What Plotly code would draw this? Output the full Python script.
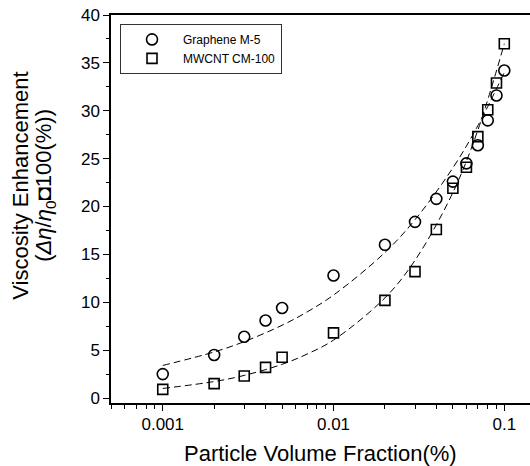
import plotly.graph_objects as go

# ---- data ----
x_vals = [0.001, 0.002, 0.003, 0.004, 0.005, 0.01, 0.02, 0.03, 0.04, 0.05,
          0.06, 0.07, 0.08, 0.09, 0.1]
graphene = [2.5, 4.5, 6.4, 8.1, 9.4, 12.8, 16.0, 18.4, 20.8, 22.6,
            24.5, 26.4, 29.0, 31.6, 34.2]
mwcnt = [0.9, 1.5, 2.3, 3.2, 4.25, 6.8, 10.2, 13.2, 17.6, 21.9,
         24.1, 27.3, 30.1, 32.9, 37.0]

fit_x = [0.001, 0.002, 0.003, 0.005, 0.007, 0.01, 0.02, 0.03, 0.05, 0.07, 0.1]
graphene_fit = [3.40, 4.81, 5.89, 7.60, 8.99, 10.75, 15.20, 18.62, 24.04, 28.44, 34.0]
mwcnt_fit = [1.00, 1.72, 2.36, 3.52, 4.59, 6.05, 10.46, 14.38, 21.46, 27.97, 37.0]

x_tickvals = [0.001, 0.01, 0.1]
x_ticktext = ["0.001", "0.01", "0.1"]
y_tickvals = [0, 5, 10, 15, 20, 25, 30, 35, 40]

series_names = ["Graphene M-5", "MWCNT CM-100"]
x_title = "Particle Volume Fraction(%)"
y_title_1 = "Viscosity Enhancement"
y_title_2 = "(<i>Δη</i>/<i>η</i><sub>0</sub>◘100(%))"

FONT = "Liberation Sans, Arial, sans-serif"

fig = go.Figure()

fig.add_trace(go.Scatter(x=fit_x, y=graphene_fit, mode="lines",
                         line=dict(color="black", width=1, dash="7px,4px", shape="spline"),
                         showlegend=False, hoverinfo="skip"))
fig.add_trace(go.Scatter(x=fit_x, y=mwcnt_fit, mode="lines",
                         line=dict(color="black", width=1, dash="7px,4px", shape="spline"),
                         showlegend=False, hoverinfo="skip"))

fig.add_trace(go.Scatter(x=x_vals, y=graphene, mode="markers", name=series_names[0],
                         marker=dict(symbol="circle-open", size=11, color="black",
                                     line=dict(color="black", width=1.6))))
fig.add_trace(go.Scatter(x=x_vals, y=mwcnt, mode="markers", name=series_names[1],
                         marker=dict(symbol="square-open", size=10, color="black",
                                     line=dict(color="black", width=1.6))))

fig.update_layout(
    width=530, height=466,
    margin=dict(l=111, r=0, t=15, b=63, autoexpand=False),
    paper_bgcolor="white", plot_bgcolor="white",
    font=dict(family=FONT, color="black"),
    showlegend=True,
    legend=dict(x=0.0215, y=0.977, xanchor="left", yanchor="top",
                bgcolor="white", bordercolor="#333333", borderwidth=1,
                font=dict(size=12, family=FONT), tracegroupgap=0, itemwidth=52),
    xaxis=dict(type="log", range=[-3.303, -0.8495], automargin=False,
               tickvals=x_tickvals, ticktext=x_ticktext,
               ticks="outside", ticklen=6, tickwidth=1.2, tickcolor="black",
               ticklabelstandoff=-1, ticklabeloverflow="allow",
               minor=dict(ticks="outside", ticklen=4, tickwidth=1, tickcolor="black",
                          dtick="D1", showgrid=False),
               showline=True, linecolor="black", linewidth=1.5, mirror=True,
               showgrid=False, zeroline=False,
               tickfont=dict(size=17, family=FONT)),
    yaxis=dict(range=[-0.52, 40], tickvals=y_tickvals, automargin=False,
               ticks="outside", ticklen=6, tickwidth=1.2, tickcolor="black",
               ticklabeloverflow="allow",
               minor=dict(ticks="outside", ticklen=3, tickwidth=1, tickcolor="black",
                          dtick=2.5, showgrid=False),
               showline=True, linecolor="black", linewidth=1.5, mirror=False,
               showgrid=False, zeroline=False,
               tickfont=dict(size=17, family=FONT)),
)

fig.add_annotation(text=x_title, xref="paper", yref="paper",
                   x=0.5, y=-0.131, xanchor="center", yanchor="middle",
                   showarrow=False, font=dict(size=22, family=FONT))
fig.add_annotation(text=y_title_1, xref="paper", yref="paper",
                   x=-0.2148, y=0.56, xanchor="center", yanchor="middle",
                   textangle=-90, showarrow=False, font=dict(size=22, family=FONT))
fig.add_annotation(text=y_title_2, xref="paper", yref="paper",
                   x=-0.1575, y=0.56, xanchor="center", yanchor="middle",
                   textangle=-90, showarrow=False, font=dict(size=22, family=FONT))

fig.write_html("out.html", config={"displayModeBar": False},
               post_script="document.body.style.margin='0px';document.body.style.overflow='hidden';")
